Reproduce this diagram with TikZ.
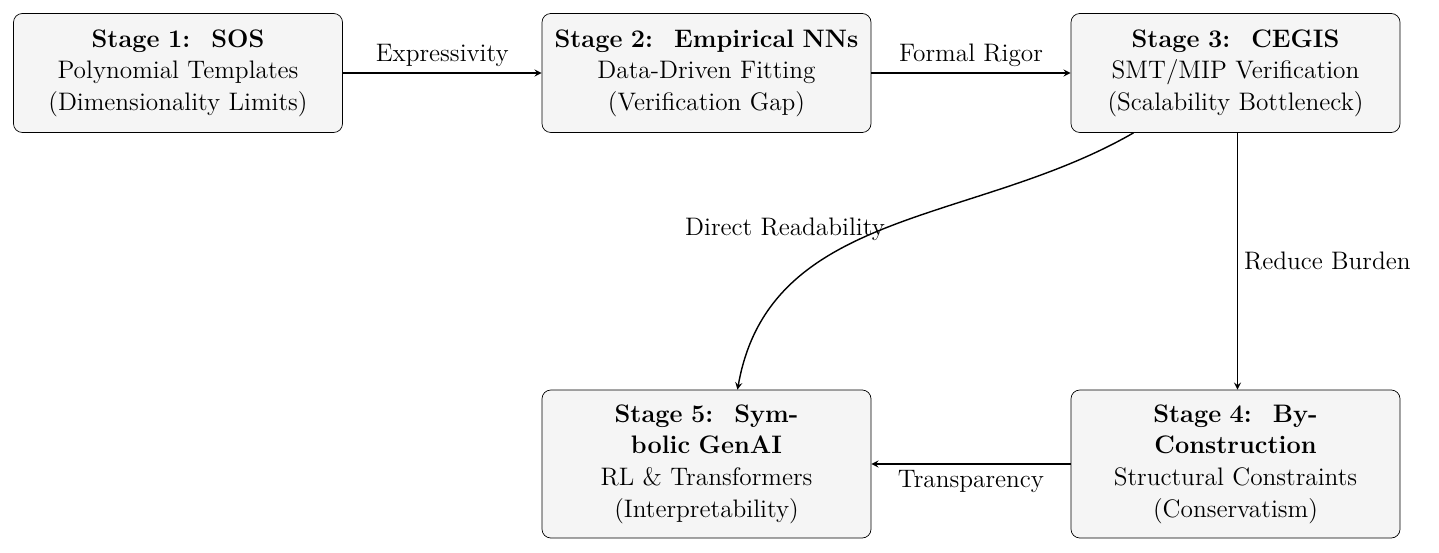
\documentclass[tikz,border=0pt]{standalone}
\usetikzlibrary{positioning}

\begin{document}
\begin{tikzpicture}[>=stealth, font=\Large,
  stagebox/.style={draw, rounded corners=5pt, fill=black!4, align=center, text width=6.4cm, minimum width=6.58cm, inner sep=2pt},
  flow/.style={->, thick}]
\useasboundingbox (0,0) rectangle (28.78,-11.06);
\node[stagebox, minimum height=2.38cm] (s1) at (3.56,-1.46) {\textbf{Stage 1: \ SOS}\\Polynomial Templates\\(Dimensionality Limits)};
\node[stagebox, minimum height=2.38cm] (s2) at (14.13,-1.46) {\textbf{Stage 2: \ Empirical NNs}\\Data-Driven Fitting\\(Verification Gap)};
\node[stagebox, minimum height=2.38cm] (s3) at (24.71,-1.46) {\textbf{Stage 3: \ CEGIS}\\SMT/MIP Verification\\(Scalability Bottleneck)};
\node[stagebox, minimum height=2.96cm] (s5) at (14.13,-9.28) {\textbf{Stage 5: \ Sym-}\\\textbf{bolic GenAI}\\RL \& Transformers\\(Interpretability)};
\node[stagebox, minimum height=2.96cm] (s4) at (24.71,-9.28) {\textbf{Stage 4: \ By-}\\\textbf{Construction}\\Structural Constraints\\(Conservatism)};
% connectors
\draw[flow] (s1) -- node[above] {Expressivity} (s2);
\draw[flow] (s2) -- node[above] {Formal Rigor} (s3);
\draw[flow] ([xshift=0.04cm]s3.south) -- node[right] {Reduce Burden} ([xshift=0.04cm]s4.north);
\draw[flow] (s4) -- node[below] {Transparency} (s5);
\draw[flow] ([xshift=-2.04cm]s3.south) to[out=-150,in=80] ([xshift=0.62cm]s5.north);
\node at (15.7,-4.58) {Direct Readability};
\end{tikzpicture}
\end{document}
